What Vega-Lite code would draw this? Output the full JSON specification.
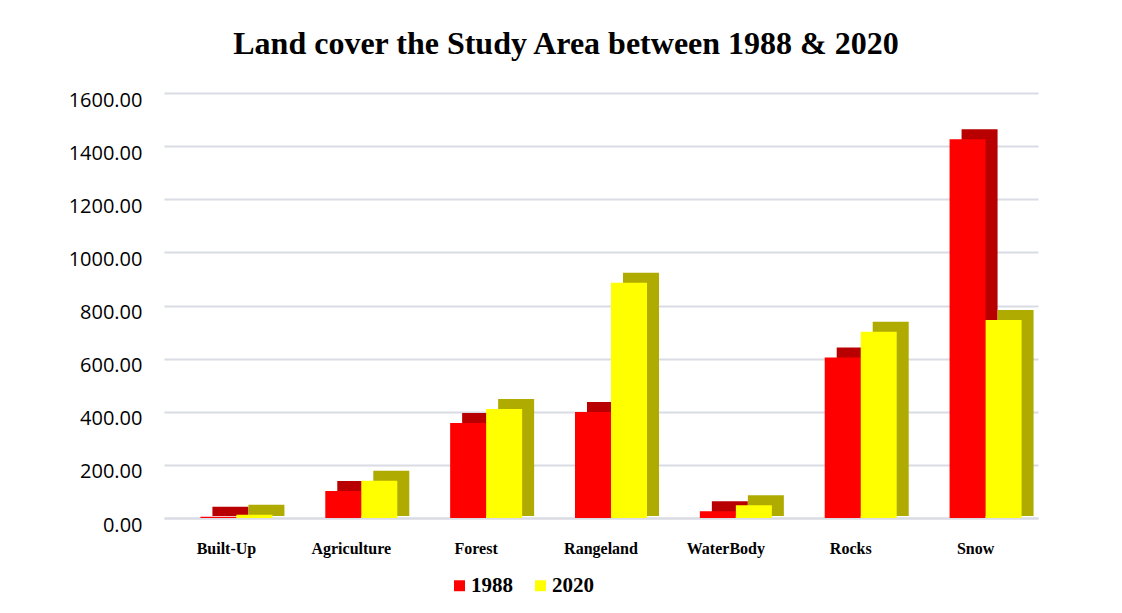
{
  "$schema": "https://vega.github.io/schema/vega-lite/v6.json",
  "width": 874,
  "height": 425,
  "autosize": {"type": "none"},
  "padding": {"left": 164, "top": 93, "right": 84, "bottom": 95},
  "background": "white",
  "title": {
    "text": "Land cover the Study Area between 1988 & 2020",
    "font": "Liberation Serif",
    "fontSize": 32,
    "fontWeight": "bold",
    "color": "#000000",
    "anchor": "middle",
    "dx": -35,
    "offset": 29
  },
  "data": {
    "values": [
      {"cover": "Built-Up", "year": "1988", "area": 5},
      {"cover": "Built-Up", "year": "2020", "area": 12},
      {"cover": "Agriculture", "year": "1988", "area": 102},
      {"cover": "Agriculture", "year": "2020", "area": 140},
      {"cover": "Forest", "year": "1988", "area": 358},
      {"cover": "Forest", "year": "2020", "area": 410},
      {"cover": "Rangeland", "year": "1988", "area": 399},
      {"cover": "Rangeland", "year": "2020", "area": 886},
      {"cover": "WaterBody", "year": "1988", "area": 25},
      {"cover": "WaterBody", "year": "2020", "area": 48},
      {"cover": "Rocks", "year": "1988", "area": 604},
      {"cover": "Rocks", "year": "2020", "area": 701},
      {"cover": "Snow", "year": "1988", "area": 1426},
      {"cover": "Snow", "year": "2020", "area": 745}
    ]
  },
  "encoding": {
    "x": {
      "field": "cover",
      "type": "nominal",
      "sort": null,
      "scale": {"paddingInner": 0.423, "paddingOuter": 0.2115},
      "axis": {
        "title": null,
        "labelAngle": 0,
        "labelFont": "Liberation Serif",
        "labelFontWeight": "bold",
        "labelFontSize": 16,
        "labelColor": "#000000",
        "labelPadding": 22,
        "ticks": false,
        "domain": true,
        "domainColor": "#d9dce4",
        "domainWidth": 2,
        "domainCap": "butt"
      }
    },
    "y": {
      "field": "area",
      "type": "quantitative",
      "scale": {"domain": [0, 1600], "nice": false},
      "axis": {
        "title": null,
        "values": [0, 200, 400, 600, 800, 1000, 1200, 1400, 1600],
        "format": ".2f",
        "labelFont": "Open Sans",
        "labelFontSize": 20,
        "labelColor": "#000000",
        "labelPadding": 22,
        "labelOffset": 7,
        "ticks": false,
        "domain": false,
        "grid": true,
        "gridColor": "#d9dce4",
        "gridWidth": 2
      }
    }
  },
  "layer": [
    {
      "description": "1988 depth face: darker copy pushed back and up",
      "transform": [{"filter": "datum.year == '1988'"}],
      "mark": {"type": "bar", "width": 36, "xOffset": 4, "yOffset": -10, "y2Offset": -2, "color": "#b80000"},
      "encoding": {"y2": {"datum": 0}}
    },
    {
      "description": "2020 depth face",
      "transform": [{"filter": "datum.year == '2020'"}],
      "mark": {"type": "bar", "width": 36, "xOffset": 40, "yOffset": -10, "y2Offset": -2, "color": "#b0ab00"},
      "encoding": {"y2": {"datum": 0}}
    },
    {
      "description": "1988 front face",
      "transform": [{"filter": "datum.year == '1988'"}],
      "mark": {"type": "bar", "width": 36, "xOffset": -8},
      "encoding": {
        "color": {
          "field": "year",
          "type": "nominal",
          "scale": {"domain": ["1988", "2020"], "range": ["#ff0000", "#ffff00"]},
          "legend": {
            "title": null,
            "orient": "none",
            "legendX": 285,
            "legendY": 482,
            "direction": "horizontal",
            "symbolType": "square",
            "symbolSize": 120,
            "symbolStrokeWidth": 0,
            "labelFont": "Liberation Serif",
            "labelFontWeight": "bold",
            "labelFontSize": 21,
            "labelColor": "#000000",
            "labelOffset": 1,
            "columnPadding": 17
          }
        }
      }
    },
    {
      "description": "2020 front face",
      "transform": [{"filter": "datum.year == '2020'"}],
      "mark": {"type": "bar", "width": 36, "xOffset": 28},
      "encoding": {
        "color": {
          "field": "year",
          "type": "nominal"
        }
      }
    }
  ],
  "config": {
    "view": {"stroke": null}
  }
}
